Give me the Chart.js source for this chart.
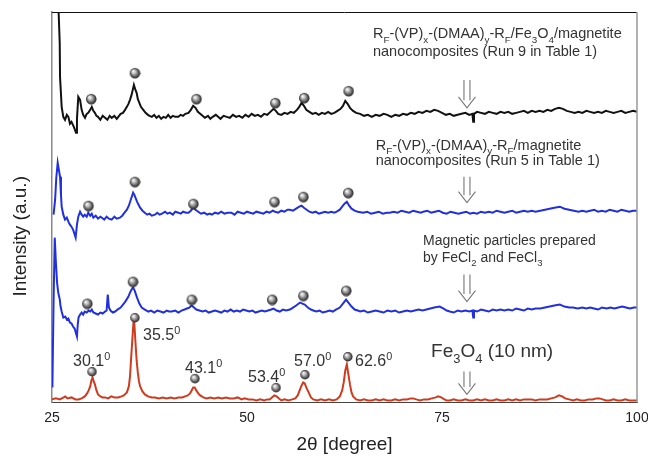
<!DOCTYPE html>
<html><head><meta charset="utf-8">
<script src="https://cdn.jsdelivr.net/npm/chart.js@4/dist/chart.umd.min.js"></script>
<style>html,body{margin:0;padding:0;background:#fff}#wrap{width:648px;height:456px}</style>
</head><body><div id="wrap"><canvas id="c" width="648" height="456"></canvas></div>
<script>
// ---- data: [2theta (deg), intensity (a.u., stacked/offset traces)] ----
const run9Data = [[25.3,420],[25.6,445],[25.99,360],[26.03,326],[26.24,296],[26.45,286],[26.67,283],[26.9,288],[27.1,286],[27.3,279],[27.5,281],[27.8,276],[28.08,270],[28.2,284],[28.37,306],[28.6,303],[28.8,293],[29.0,288],[29.23,285],[29.45,289],[29.65,290],[29.9,293],[30.1,296],[30.3,292],[30.5,290],[30.7,287],[30.9,286],[31.2,283],[31.5,287],[31.8,285],[32.1,283],[32.4,287],[32.65,285],[33.0,287],[33.3,284],[33.5,286],[33.8,289],[34.1,290],[34.36,293],[34.6,296],[34.8,299],[35.0,303],[35.2,308],[35.35,313],[35.5,318],[35.65,314],[35.85,310],[36.0,304],[36.15,301],[36.4,296],[36.7,293],[37.0,290],[37.3,288],[37.5,287],[37.8,286],[38.1,288],[38.4,285],[38.7,287],[39.0,284],[39.3,286],[39.6,285],[39.9,288],[40.2,285],[40.5,287],[40.8,286],[41.2,286],[41.5,288],[41.8,287],[42.1,289],[42.5,290],[42.8,293],[43.1,297],[43.4,295],[43.7,291],[44.0,289],[44.3,287],[44.6,285],[45.0,287],[45.3,284],[45.6,286],[46.0,288],[46.3,286],[46.6,284],[47.0,287],[47.4,286],[47.8,285],[48.2,288],[48.6,286],[49.0,287],[49.4,285],[49.8,288],[50.2,286],[50.6,289],[51.0,287],[51.4,288],[51.8,286],[52.2,289],[52.6,288],[53.0,291],[53.4,294],[53.7,292],[54.0,289],[54.4,288],[54.8,290],[55.2,289],[55.6,291],[56.0,290],[56.4,293],[56.7,296],[57.0,300],[57.3,297],[57.6,293],[58.0,291],[58.4,289],[58.8,290],[59.2,288],[59.6,290],[60.0,289],[60.4,291],[60.8,289],[61.2,290],[61.6,292],[62.0,294],[62.3,297],[62.6,302],[62.9,299],[63.2,295],[63.6,292],[64.0,290],[64.5,289],[65.0,287],[65.5,288],[66.0,286],[66.5,288],[67.0,287],[67.5,289],[68.0,288],[68.5,286],[69.0,288],[69.5,287],[70.0,289],[70.5,288],[71.0,290],[71.5,289],[72.0,291],[72.5,290],[73.0,292],[73.5,291],[74.0,293],[74.5,292],[75.0,290],[75.5,288],[76.0,289],[76.5,287],[77.0,288],[77.5,289],[78.0,290],[78.5,288],[78.9,289],[79.0,281],[79.1,289],[79.5,291],[80.0,290],[80.5,289],[81.0,291],[81.5,290],[82.0,289],[82.5,291],[83.0,290],[83.5,291],[84.0,289],[84.5,290],[85.0,291],[85.5,292],[86.0,290],[86.5,292],[87.0,291],[87.5,292],[88.0,291],[88.5,293],[89.0,292],[89.5,294],[90.0,295],[90.5,294],[91.0,292],[91.5,291],[92.0,290],[92.5,291],[93.0,290],[93.5,292],[94.0,291],[94.5,290],[95.0,291],[95.5,290],[96.0,292],[96.5,291],[97.0,290],[97.5,291],[98.0,292],[98.5,290],[99.0,291],[99.5,292],[100.0,291]];

const run5Data = [[25.2,188],[25.4,203],[25.55,225],[25.73,240],[25.9,232],[26.03,226],[26.15,208],[26.24,196],[26.45,188],[26.67,183],[26.9,185],[27.1,181],[27.3,178],[27.5,176],[27.75,172],[28.03,165],[28.2,178],[28.37,186],[28.6,191],[28.8,188],[29.0,186],[29.2,188],[29.45,186],[29.65,190],[29.9,187],[30.1,189],[30.3,185],[30.6,187],[30.9,184],[31.2,186],[31.4,185],[31.7,183],[32.0,186],[32.3,184],[32.65,183],[33.0,186],[33.3,184],[33.7,185],[34.0,187],[34.3,190],[34.6,193],[34.85,197],[35.1,203],[35.4,210],[35.55,208],[35.7,205],[35.9,201],[36.1,198],[36.3,195],[36.6,192],[36.9,190],[37.2,188],[37.5,189],[37.8,187],[38.2,188],[38.5,190],[38.8,188],[39.1,189],[39.5,191],[39.8,189],[40.1,190],[40.5,188],[40.8,191],[41.2,190],[41.5,189],[41.8,191],[42.2,190],[42.5,190],[42.8,192],[43.1,195],[43.4,193],[43.75,191],[44.1,189],[44.5,190],[44.9,188],[45.2,189],[45.5,188],[45.9,190],[46.3,189],[46.7,191],[47.1,189],[47.5,190],[48.0,190],[48.4,188],[48.8,191],[49.2,190],[49.6,189],[50.0,191],[50.4,190],[50.8,189],[51.2,191],[51.7,190],[52.1,189],[52.5,191],[52.9,190],[53.3,192],[53.6,191],[54.0,190],[54.4,192],[54.8,191],[55.2,193],[55.5,193],[55.9,192],[56.3,194],[56.7,196],[57.0,197],[57.3,195],[57.65,193],[58.0,191],[58.4,190],[58.8,191],[59.2,189],[59.6,190],[60.0,191],[60.4,190],[60.8,191],[61.2,190],[61.5,191],[61.9,193],[62.2,196],[62.5,199],[62.8,201],[63.1,197],[63.4,194],[63.8,192],[64.2,191],[64.9,190],[65.4,191],[65.9,189],[66.4,190],[66.9,191],[67.4,189],[67.9,190],[68.3,190],[68.8,191],[69.3,190],[69.8,192],[70.3,191],[70.8,190],[71.3,192],[71.8,191],[72.3,190],[72.6,191],[73.1,192],[73.6,190],[74.1,191],[74.6,192],[75.1,190],[75.6,189],[76.1,191],[76.6,190],[77.1,189],[77.6,190],[78.1,191],[78.6,189],[79.0,190],[79.5,189],[80.0,191],[80.5,190],[81.0,191],[81.5,190],[82.0,192],[82.5,191],[83.0,190],[83.5,191],[84.0,192],[84.5,190],[85.0,191],[85.5,192],[86.0,191],[86.5,192],[87.0,191],[87.6,192],[88.2,193],[88.8,194],[89.4,195],[90.1,196],[90.7,194],[91.3,193],[91.9,192],[92.5,191],[93.0,192],[93.5,191],[94.0,192],[94.5,193],[95.0,191],[95.5,192],[96.0,191],[96.5,193],[97.0,192],[97.5,191],[98.0,193],[98.5,192],[99.0,191],[99.5,192],[100.0,192]];

const feclData = [[25.05,15],[25.2,100],[25.35,165],[25.5,140],[25.65,120],[25.8,110],[26.0,103],[26.1,96],[26.24,91],[26.45,85],[26.7,86],[26.9,83],[27.1,84],[27.3,80],[27.5,79],[27.7,76],[27.9,74],[28.05,70],[28.2,66],[28.3,78],[28.4,85],[28.6,88],[28.8,90],[29.0,88],[29.2,91],[29.45,90],[29.7,92],[29.9,91],[30.1,93],[30.3,90],[30.6,89],[30.9,88],[31.2,90],[31.5,89],[31.8,91],[32.0,92],[32.15,108],[32.3,95],[32.5,92],[32.8,90],[33.1,91],[33.4,93],[33.8,95],[34.1,98],[34.4,101],[34.8,106],[35.0,110],[35.2,113],[35.4,115],[35.6,112],[35.9,105],[36.2,99],[36.5,95],[36.9,93],[37.35,91],[37.7,92],[38.1,90],[38.5,92],[38.9,91],[39.3,90],[39.7,92],[40.0,91],[40.35,91],[40.8,92],[41.2,90],[41.6,92],[42.0,93],[42.3,94],[42.6,95],[42.9,97],[43.2,95],[43.5,93],[43.9,92],[44.3,91],[44.7,92],[45.1,90],[45.5,91],[45.9,92],[46.3,91],[46.7,90],[47.1,92],[47.5,91],[47.9,93],[48.3,91],[48.7,92],[49.1,91],[49.5,93],[49.9,92],[50.3,91],[50.7,92],[51.1,90],[51.5,91],[51.9,92],[52.3,91],[52.7,92],[53.1,93],[53.4,94],[53.8,92],[54.2,91],[54.6,93],[55.0,92],[55.5,93],[55.9,95],[56.3,97],[56.8,100],[57.1,99],[57.4,98],[57.8,95],[58.2,93],[58.5,92],[58.9,91],[59.3,92],[59.7,90],[60.2,91],[60.6,92],[61.0,91],[61.4,93],[61.9,95],[62.3,99],[62.7,103],[63.0,100],[63.4,96],[63.8,93],[64.2,92],[64.5,91],[65.0,92],[65.5,90],[66.0,91],[66.5,92],[67.0,91],[67.5,90],[68.0,92],[68.5,91],[69.0,92],[69.5,90],[70.0,91],[70.5,92],[71.0,91],[71.5,92],[72.0,93],[72.5,92],[73.0,93],[73.5,94],[74.0,95],[74.7,96],[75.2,94],[75.6,92],[76.0,91],[76.5,90],[77.0,92],[77.5,91],[78.0,92],[78.5,91],[78.9,92],[79.0,85],[79.1,92],[79.5,91],[80.0,93],[80.5,92],[81.0,91],[81.5,93],[82.0,92],[82.5,93],[83.0,92],[83.5,93],[84.0,92],[84.5,94],[85.0,93],[85.5,92],[86.0,94],[86.5,93],[87.0,94],[87.6,94],[88.2,95],[88.8,96],[89.4,97],[90.1,98],[90.7,96],[91.3,95],[91.8,95],[92.4,94],[93.0,95],[93.5,94],[94.0,95],[94.5,94],[95.0,93],[95.5,95],[96.1,94],[96.6,95],[97.1,94],[97.6,95],[98.1,96],[98.6,95],[99.1,94],[99.6,95],[100.0,95]];

const fe3o4Data = [[25.0,3],[25.5,4],[26.0,3],[26.5,5],[26.7,6],[27.0,4],[27.5,5],[28.0,3],[28.4,3],[28.8,4],[29.2,6],[29.5,9],[29.7,12],[29.9,16],[30.05,22],[30.2,25],[30.35,21],[30.5,18],[30.7,12],[30.9,8],[31.2,6],[31.5,5],[31.8,5],[32.2,4],[32.6,6],[33.0,5],[33.5,5],[33.9,6],[34.2,7],[34.6,10],[34.85,16],[35.0,26],[35.15,45],[35.3,63],[35.45,81],[35.55,80],[35.7,60],[35.85,42],[36.0,30],[36.15,21],[36.3,16],[36.6,11],[36.9,8],[37.3,6],[37.8,5],[38.2,5],[38.7,4],[39.2,5],[39.7,4],[40.2,5],[40.7,4],[41.2,5],[41.7,5],[42.05,6],[42.4,7],[42.7,9],[42.9,12],[43.1,15],[43.3,15],[43.5,12],[43.75,9],[44.0,7],[44.4,5],[44.8,4],[45.3,5],[45.8,4],[46.3,5],[46.8,4],[47.3,5],[47.8,4],[48.3,4],[48.8,5],[49.3,3],[49.7,4],[50.2,3],[50.7,3],[51.2,2],[51.7,3],[52.2,2],[52.6,3],[52.9,3],[53.2,5],[53.5,7],[53.8,6],[54.1,4],[54.4,2],[54.8,3],[55.3,2],[55.8,3],[56.2,4],[56.5,7],[56.8,13],[57.0,17],[57.2,20],[57.4,19],[57.6,15],[57.9,10],[58.2,5],[58.5,3],[59.0,2],[59.5,3],[60.0,2],[60.5,3],[61.0,2],[61.5,3],[61.9,6],[62.2,12],[62.4,20],[62.6,32],[62.8,38],[63.0,28],[63.2,18],[63.4,10],[63.6,6],[64.0,3],[64.5,2],[65.0,3],[65.5,2],[66.0,2],[66.5,3],[67.0,2],[67.5,3],[68.0,2],[68.5,2],[69.0,3],[69.5,2],[70.0,3],[70.5,3],[71.0,4],[71.3,4],[71.7,3],[72.2,2],[72.7,3],[73.2,3],[73.7,4],[74.2,5],[74.5,6],[74.9,5],[75.3,3],[75.6,2],[76.0,2],[76.5,3],[77.0,2],[77.5,2],[78.0,3],[78.5,2],[79.0,2],[79.5,3],[80.0,2],[80.5,3],[81.0,2],[81.5,2],[82.0,3],[82.5,2],[83.0,2],[83.5,3],[84.0,2],[84.5,3],[85.0,2],[85.5,3],[86.0,3],[86.5,3],[87.0,2],[87.5,3],[88.0,3],[88.5,3],[89.0,4],[89.5,5],[90.0,7],[90.4,6],[90.8,4],[91.3,3],[91.8,2],[92.3,3],[92.8,2],[93.3,2],[93.8,3],[94.3,3],[94.8,4],[95.2,4],[95.6,3],[96.0,2],[96.5,2],[97.0,3],[97.5,2],[98.0,2],[98.5,3],[99.0,2],[99.5,2],[100.0,2]];

// peak-marker balls (2theta, intensity) for each trace
const run9Balls  = [[30.0,304],[35.6,330],[43.5,304],[53.6,300],[57.3,305],[63.0,312]];
const run5Balls  = [[29.65,197],[35.6,221],[43.1,199],[53.5,201],[57.2,206],[62.95,210]];
const feclBalls  = [[29.5,99],[35.35,121],[42.9,103],[53.2,103],[57.2,107],[62.7,112]];
const fe3o4Balls = [[30.1,31],[35.6,85],[43.3,24],[53.7,15],[57.4,28],[62.9,46]];

// peak labels (Fe3O4 reference)
const peakLabels = ['30.1', '35.5', '43.1', '53.4', '57.0', '62.6'];
const xTicks = [25, 50, 75, 100];

// ---- annotation layout (not data) ----
const FONT = "'Liberation Sans', Arial, Helvetica, sans-serif";
const TXT = '#333';
const texts = [
  {x:66.15, y:364.5, s:'R_{F}-(VP)_{x}-(DMAA)_{y}-R_{F}/Fe_{3}O_{4}/magnetite', size:14.5},
  {x:66.15, y:346.5, s:'nanocomposites (Run 9 in Table 1)', size:14.5},
  {x:66.5, y:253, s:'R_{F}-(VP)_{x}-(DMAA)_{y}-R_{F}/magnetite', size:14.5},
  {x:66.5, y:238, s:'nanocomposites (Run 5 in Table 1)', size:14.5},
  {x:72.56, y:158, s:'Magnetic particles prepared', size:14},
  {x:72.56, y:141, s:'by FeCl_{2} and FeCl_{3}', size:14},
  {x:73.6, y:45, s:'Fe_{3}O_{4} (10 nm)', size:19},
  {x:27.7, y:36, s:peakLabels[0]+'^{0}', size:16},
  {x:36.67, y:62, s:peakLabels[1]+'^{0}', size:16},
  {x:42.05, y:29, s:peakLabels[2]+'^{0}', size:16},
  {x:50.13, y:20, s:peakLabels[3]+'^{0}', size:16},
  {x:56.03, y:36, s:peakLabels[4]+'^{0}', size:16},
  {x:63.85, y:36, s:peakLabels[5]+'^{0}', size:16}
];
const arrows = [
  {x:78.2, top:323, tip:295},
  {x:78.2, top:226, tip:200},
  {x:78.2, top:128, tip:101},
  {x:78.2, top:31, tip:8}
];

function parseRich(s){
  const segs=[]; const re=/([_^])\{([^}]*)\}/g; let last=0, m;
  while((m=re.exec(s))){ if(m.index>last) segs.push({t:s.slice(last,m.index),k:''}); segs.push({t:m[2],k:m[1]==='_'?'sub':'sup'}); last=re.lastIndex; }
  if(last<s.length) segs.push({t:s.slice(last),k:''});
  return segs;
}
function drawRich(ctx, s, x, y, size){
  let cx=x;
  for(const seg of parseRich(s)){
    let fs=size, dy=0;
    if(seg.k==='sub'){fs=size*0.68; dy=size*0.28;}
    if(seg.k==='sup'){fs=size*0.68; dy=-size*0.42;}
    ctx.font = fs+'px '+FONT;
    ctx.fillText(seg.t, cx, y+dy);
    cx += ctx.measureText(seg.t).width;
  }
}

function makeBall(d){
  const c=document.createElement('canvas'); c.width=d+2; c.height=d+2;
  const g=c.getContext('2d'); const r=d/2, o=(d+2)/2;
  const grad=g.createRadialGradient(o-r*0.35,o-r*0.4,r*0.05,o,o,r);
  grad.addColorStop(0,'#ffffff'); grad.addColorStop(0.3,'#c8c8c8');
  grad.addColorStop(0.75,'#5a5a5a'); grad.addColorStop(1,'#1e1e1e');
  g.fillStyle=grad; g.beginPath(); g.arc(o,o,r,0,Math.PI*2); g.fill();
  return c;
}
const ball = makeBall(10.5);
const ballSmall = makeBall(9.5);

const toXY = a => a.map(p=>({x:p[0], y:p[1]}));
function trace(data, color){
  return {type:'line', data:toXY(data), borderColor:color, borderWidth:2, pointRadius:0, tension:0, fill:false, order:2};
}
function balls(data, img){
  return {type:'scatter', data:toXY(data), pointStyle:img, pointRadius:5, showLine:false, order:0};
}

const annotPlugin = {
  id:'annot',
  afterDraw(chart){
    const ctx=chart.ctx, xs=chart.scales.x, ys=chart.scales.y, a=chart.chartArea;
    ctx.save();
    // frame: top and right
    ctx.strokeStyle='#111'; ctx.lineWidth=1;
    ctx.beginPath(); ctx.moveTo(a.left, a.top+0.5); ctx.lineTo(a.right, a.top+0.5); ctx.stroke();
    ctx.strokeStyle='#999'; ctx.lineWidth=1.5;
    ctx.beginPath(); ctx.moveTo(a.right, a.top); ctx.lineTo(a.right, a.bottom); ctx.stroke();
    // texts
    ctx.fillStyle=TXT; ctx.textBaseline='alphabetic'; ctx.textAlign='left';
    for(const t of texts) drawRich(ctx, t.s, xs.getPixelForValue(t.x), ys.getPixelForValue(t.y), t.size);
    // hollow double arrows
    ctx.strokeStyle='#777'; ctx.lineWidth=1.1;
    for(const ar of arrows){
      const cx=xs.getPixelForValue(ar.x), top=ys.getPixelForValue(ar.top), tip=ys.getPixelForValue(ar.tip);
      const hb = tip-11;
      ctx.beginPath();
      ctx.moveTo(cx-3, top); ctx.lineTo(cx-3, hb+3.5);
      ctx.moveTo(cx+3, top); ctx.lineTo(cx+3, hb+3.5);
      ctx.moveTo(cx-8.5, hb); ctx.lineTo(cx, tip); ctx.lineTo(cx+8.5, hb);
      ctx.stroke();
    }
    ctx.restore();
  }
};

const NB = '\u00a0';
new Chart(document.getElementById('c'), {
  data:{datasets:[
    balls(run9Balls, ball), balls(run5Balls, ball), balls(feclBalls, ball), balls(fe3o4Balls, ballSmall),
    trace(run9Data, '#111111'), trace(run5Data, '#2030e0'), trace(feclData, '#2030e0'), trace(fe3o4Data, '#d23a1e')
  ]},
  options:{
    responsive:false, animation:false, devicePixelRatio:1,
    layout:{padding:{left:0, right:11, top:12, bottom:0}},
    plugins:{legend:{display:false}, tooltip:{enabled:false}},
    scales:{
      x:{type:'linear', min:25, max:100,
         afterBuildTicks: s => { s.ticks = xTicks.map(v=>({value:v})); },
         afterFit: s => { s.paddingLeft = 0; s.paddingRight = 0; },
         ticks:{padding:7, font:{size:14, family:FONT}, color:'#222', maxRotation:0, autoSkip:false},
         grid:{display:false, drawTicks:false},
         border:{display:true, color:'#444', width:1},
         title:{display:true, text:'2θ [degree]', font:{size:19, family:FONT}, color:'#222', padding:{top:0, bottom:0}}},
      y:{type:'linear', min:0, max:391,
         ticks:{display:false},
         grid:{display:false, drawTicks:false},
         border:{display:true, color:'#888', width:1.5},
         title:{display:true, text:'Intensity (a.u.)'+NB.repeat(11), font:{size:19, family:FONT}, color:'#222', padding:{top:9.6, bottom:19.6}}}
    }
  },
  plugins:[annotPlugin]
});
</script></body></html>
